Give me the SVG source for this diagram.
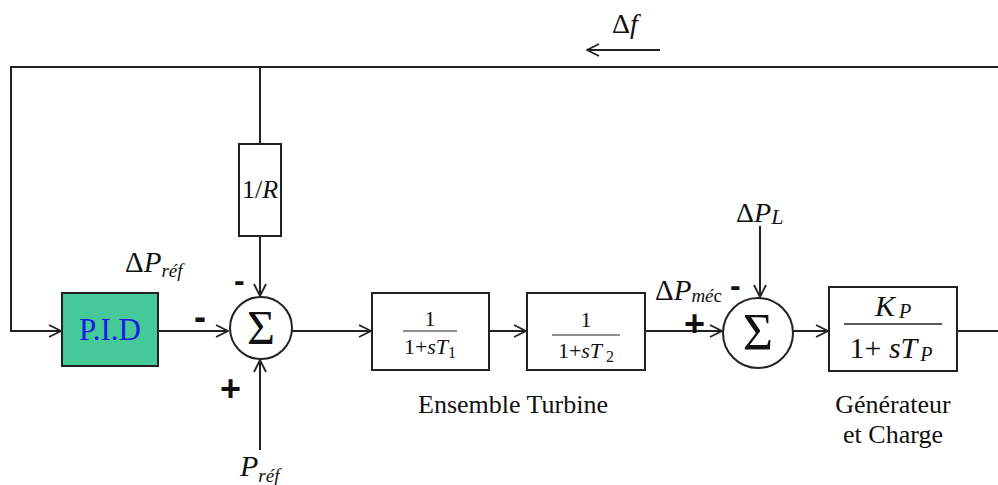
<svg xmlns="http://www.w3.org/2000/svg" width="998" height="485" viewBox="0 0 998 485">
<style>
.ln{fill:none;stroke:#222;stroke-width:2}
.bx{fill:#fff;stroke:#222;stroke-width:2}
.t{font-family:"Liberation Serif","Times New Roman","DejaVu Serif",serif;fill:#111}
.i{font-style:italic}
.sg{font-family:"Liberation Sans",Arial,sans-serif;font-weight:bold;fill:#111}
</style>
<defs>
<marker id="ar" viewBox="0 0 14 14" refX="13" refY="7" markerWidth="14" markerHeight="14" markerUnits="userSpaceOnUse" orient="auto">
<path d="M1,1 L13,7 L1,13" fill="none" stroke="#222" stroke-width="1.8"/>
</marker>
</defs>
<g id="connectors">
<path class="ln" d="M998,67 H260 V144"/>
<path class="ln" d="M260,67 H11 V331 H61" marker-end="url(#ar)"/>
<path class="ln" d="M260,236 V296" marker-end="url(#ar)"/>
<path class="ln" d="M260,450 V360" marker-end="url(#ar)"/>
<path class="ln" d="M158,331 H228" marker-end="url(#ar)"/>
<path class="ln" d="M292,331 H371" marker-end="url(#ar)"/>
<path class="ln" d="M489,331 H526" marker-end="url(#ar)"/>
<path class="ln" d="M645,331 H722" marker-end="url(#ar)"/>
<path class="ln" d="M760,226 V297" marker-end="url(#ar)"/>
<path class="ln" d="M793,331 H828" marker-end="url(#ar)"/>
<path class="ln" d="M957,331 H998"/>
<path class="ln" d="M660,50 H587" marker-end="url(#ar)"/>
</g>
<g id="label-df"><text class="t" x="612" y="33" font-size="28">Δ<tspan class="i">f</tspan></text></g>
<g id="pid">
<rect x="62" y="293" width="96" height="73" fill="#45c999" stroke="#222" stroke-width="2"/>
<text class="t" x="110" y="340" text-anchor="middle" font-size="31" style="fill:#1a1ae6">P.I.D</text>
</g>
<g id="label-dpref"><text class="t" x="125" y="272" font-size="29">Δ<tspan class="i">P</tspan><tspan class="i" font-size="19" dy="5">réf</tspan></text></g>
<g id="r-block">
<rect class="bx" x="239" y="144" width="42" height="92"/>
<text class="t" x="260" y="198" text-anchor="middle" font-size="26">1/<tspan class="i">R</tspan></text>
</g>
<g id="sum1">
<circle class="bx" cx="261" cy="328" r="31"/>
<text class="t" x="261" y="344" text-anchor="middle" font-size="48">Σ</text>
<text class="sg" x="234" y="291" font-size="32">-</text>
<text class="sg" x="194" y="329" font-size="36">-</text>
<text class="sg" x="220" y="401" font-size="36">+</text>
</g>
<g id="label-pref"><text class="t i" x="240" y="476" font-size="30">P<tspan font-size="19" dy="6">réf</tspan></text></g>
<g id="turbine1">
<rect class="bx" x="372" y="293" width="117" height="77"/>
<text class="t" x="430" y="326" text-anchor="middle" font-size="22">1</text>
<line x1="403" y1="331" x2="457" y2="331" stroke="#222" stroke-width="1.2"/>
<text class="t" x="430" y="354" text-anchor="middle" font-size="22">1+<tspan class="i">sT</tspan><tspan font-size="16" dy="4">1</tspan></text>
</g>
<g id="turbine2">
<rect class="bx" x="527" y="293" width="118" height="77"/>
<text class="t" x="586" y="327" text-anchor="middle" font-size="22">1</text>
<line x1="552" y1="335" x2="620" y2="335" stroke="#222" stroke-width="1.2"/>
<text class="t" x="586" y="358" text-anchor="middle" font-size="22">1+<tspan class="i">sT</tspan><tspan font-size="16" dy="4"> 2</tspan></text>
</g>
<g id="label-turbine"><text class="t" x="513" y="413" text-anchor="middle" font-size="26">Ensemble Turbine</text></g>
<g id="label-dpmec"><text class="t" x="655" y="300" font-size="29">Δ<tspan class="i">P</tspan><tspan font-size="19" dy="2"><tspan class="i">mé</tspan>c</tspan></text></g>
<g id="label-dpl"><text class="t" x="736" y="222" font-size="28">Δ<tspan class="i">P</tspan><tspan class="i" font-size="22" dy="2">L</tspan></text></g>
<g id="sum2">
<circle class="bx" cx="758" cy="333" r="35"/>
<text class="t" x="758" y="350" text-anchor="middle" font-size="52">Σ</text>
<text class="sg" x="730" y="296" font-size="32">-</text>
<text class="sg" x="684" y="336" font-size="36">+</text>
</g>
<g id="plant">
<rect class="bx" x="829" y="287" width="128" height="84"/>
<text class="t" x="893" y="316" text-anchor="middle" font-size="30"><tspan class="i">K</tspan><tspan class="i" font-size="20" dx="4" dy="2">P</tspan></text>
<line x1="844" y1="324" x2="942" y2="324" stroke="#222" stroke-width="1.5"/>
<text class="t" x="891" y="358" text-anchor="middle" font-size="30">1+ <tspan class="i">sT</tspan><tspan class="i" font-size="20" dx="3" dy="3">P</tspan></text>
</g>
<g id="label-gen">
<text class="t" x="893" y="413" text-anchor="middle" font-size="26">Générateur</text>
<text class="t" x="893" y="443" text-anchor="middle" font-size="26">et Charge</text>
</g>
</svg>
